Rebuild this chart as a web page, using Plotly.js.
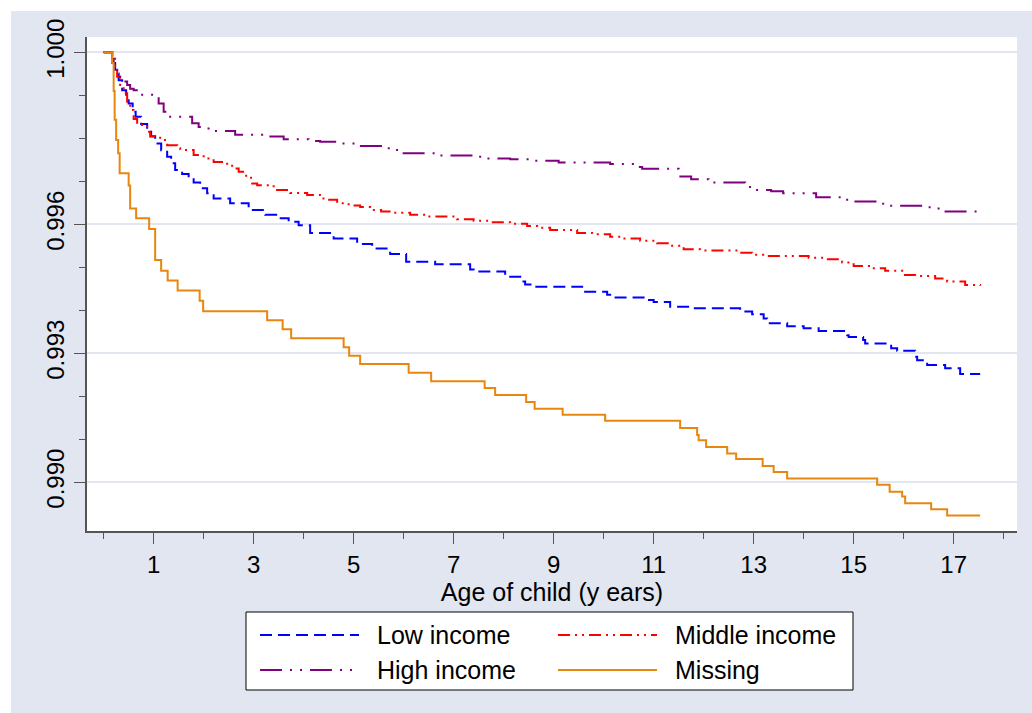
<!DOCTYPE html>
<html>
<head>
<meta charset="utf-8">
<script src="https://cdn.plot.ly/plotly-3.0.1.min.js"></script>
<style>
  html, body { margin: 0; padding: 0; background: #ffffff; }
  #chart { position: absolute; left: 11px; top: 11px; width: 1021px; height: 702px; }
</style>
</head>
<body>
<div id="chart"></div>
<script>
// Kaplan-Meier survival by household income group, age of child in years

const lowTime = [0, 0.17, 0.23, 0.30, 0.37, 0.45, 0.50, 0.58, 0.64, 0.75, 0.87, 0.95, 1.03, 1.15, 1.27, 1.35, 1.43, 1.57, 1.70, 1.80, 1.93, 2.07, 2.20, 2.53, 2.90, 3.23, 3.45, 3.70, 3.90, 4.13, 4.60, 5.07, 5.37, 5.73, 6.05, 6.63, 7.33, 7.40, 8.03, 8.37, 8.43, 8.63, 9.57, 10.07, 10.20, 10.83, 11.00, 11.33, 11.77, 12.73, 12.97, 13.20, 13.27, 13.67, 14.00, 14.30, 14.87, 14.90, 15.19, 15.23, 15.75, 15.87, 16.23, 16.27, 16.47, 16.83, 17.13, 17.53];
const lowSurv = [1.0, 0.99975, 0.99951, 0.99935, 0.99912, 0.99893, 0.99881, 0.99862, 0.99850, 0.99833, 0.99819, 0.99805, 0.99788, 0.99772, 0.99757, 0.99742, 0.99726, 0.99717, 0.99707, 0.99697, 0.99684, 0.99672, 0.99660, 0.99649, 0.99633, 0.99622, 0.99614, 0.99606, 0.99598, 0.99580, 0.99567, 0.99554, 0.99544, 0.99531, 0.99513, 0.99507, 0.99495, 0.99490, 0.99478, 0.99467, 0.99460, 0.99455, 0.99443, 0.99436, 0.99430, 0.99424, 0.99419, 0.99408, 0.99405, 0.99397, 0.99391, 0.99381, 0.99370, 0.99363, 0.99358, 0.99352, 0.99342, 0.99338, 0.99331, 0.99323, 0.99312, 0.99306, 0.99292, 0.99284, 0.99273, 0.99265, 0.99252, 0.99252];

const midTime = [0, 0.17, 0.23, 0.27, 0.33, 0.40, 0.47, 0.53, 0.60, 0.67, 0.87, 0.93, 1.13, 1.27, 1.47, 1.53, 1.80, 2.00, 2.20, 2.47, 2.60, 2.70, 2.85, 2.97, 3.07, 3.40, 3.73, 4.07, 4.37, 4.47, 4.67, 4.90, 5.13, 5.33, 5.55, 5.77, 6.13, 6.43, 7.07, 7.40, 7.73, 8.13, 8.47, 8.67, 8.93, 9.47, 9.77, 10.13, 10.37, 10.73, 11.07, 11.33, 11.60, 11.93, 12.73, 12.97, 13.23, 14.10, 14.37, 14.77, 15.00, 15.37, 15.63, 15.97, 16.23, 16.63, 16.87, 17.23, 17.53];
const midSurv = [1.0, 0.99985, 0.99967, 0.99943, 0.99924, 0.99905, 0.99885, 0.99866, 0.99845, 0.99831, 0.99815, 0.99804, 0.99796, 0.99784, 0.99777, 0.99773, 0.99761, 0.99753, 0.99745, 0.99736, 0.99730, 0.99722, 0.99708, 0.99695, 0.99691, 0.99680, 0.99673, 0.99668, 0.99660, 0.99657, 0.99649, 0.99644, 0.99640, 0.99633, 0.99630, 0.99627, 0.99622, 0.99618, 0.99612, 0.99608, 0.99605, 0.99601, 0.99596, 0.99592, 0.99587, 0.99580, 0.99577, 0.99571, 0.99567, 0.99562, 0.99556, 0.99550, 0.99542, 0.99539, 0.99534, 0.99529, 0.99526, 0.99522, 0.99519, 0.99511, 0.99503, 0.99498, 0.99492, 0.99482, 0.99480, 0.99474, 0.99467, 0.99459, 0.99457];

const highTime = [0, 0.17, 0.20, 0.27, 0.37, 0.47, 0.53, 0.60, 0.77, 1.10, 1.20, 1.33, 1.77, 1.90, 2.00, 2.20, 2.63, 3.17, 3.60, 4.10, 4.33, 4.63, 5.07, 5.57, 5.73, 5.93, 6.63, 7.53, 8.13, 8.60, 9.10, 10.13, 10.67, 10.77, 11.50, 11.75, 12.10, 12.83, 13.03, 13.35, 13.59, 14.25, 14.72, 14.87, 15.59, 16.52, 16.79, 17.53];
const highSurv = [1.0, 0.99985, 0.99967, 0.99943, 0.99932, 0.99924, 0.99915, 0.99912, 0.99901, 0.99881, 0.99862, 0.99850, 0.99835, 0.99826, 0.99823, 0.99817, 0.99808, 0.99804, 0.99798, 0.99794, 0.99792, 0.99788, 0.99782, 0.99777, 0.99773, 0.99765, 0.99760, 0.99753, 0.99751, 0.99748, 0.99744, 0.99740, 0.99733, 0.99729, 0.99711, 0.99705, 0.99697, 0.99687, 0.99680, 0.99677, 0.99672, 0.99663, 0.99657, 0.99653, 0.99643, 0.99637, 0.99630, 0.99630];

const missTime = [0, 0.17, 0.20, 0.22, 0.25, 0.29, 0.32, 0.50, 0.53, 0.65, 0.91, 1.03, 1.15, 1.28, 1.48, 1.92, 1.99, 3.27, 3.58, 3.75, 4.80, 4.91, 5.13, 6.10, 6.55, 7.62, 7.83, 8.45, 8.62, 9.18, 10.03, 11.53, 11.87, 11.90, 12.05, 12.47, 12.65, 13.18, 13.40, 13.67, 15.47, 15.72, 15.97, 16.03, 16.55, 16.87, 17.53];
const missSurv = [1.0, 0.99975, 0.99910, 0.99843, 0.99796, 0.99765, 0.99719, 0.99690, 0.99637, 0.99614, 0.99589, 0.99517, 0.99492, 0.99469, 0.99446, 0.99422, 0.99398, 0.99377, 0.99356, 0.99335, 0.99314, 0.99294, 0.99275, 0.99255, 0.99235, 0.99219, 0.99203, 0.99187, 0.99171, 0.99157, 0.99143, 0.99126, 0.99110, 0.99098, 0.99082, 0.99067, 0.99054, 0.99038, 0.99024, 0.99009, 0.98994, 0.98978, 0.98967, 0.98951, 0.98937, 0.98923, 0.98923];

const groupNames = ["Low income", "Middle income", "High income", "Missing"];
const yTickVals = [0.990, 0.993, 0.996, 1.000];
const yTickText = ["0.990", "0.993", "0.996", "1.000"];
const yMinorVals = [0.991, 0.992, 0.994, 0.995, 0.997, 0.998, 0.999];
const xTickVals = [1, 3, 5, 7, 9, 11, 13, 15, 17];
const xTickText = ["1", "3", "5", "7", "9", "11", "13", "15", "17"];

const styles = [
  { color: "#0000ff", dash: "12px,6px" },
  { color: "#ff0000", dash: "12px,5px,2px,5px,2px,5px" },
  { color: "#800080", dash: "22px,8px,2px,8px,2px,8px" },
  { color: "#e8860f", dash: "solid" }
];

const series = [
  [lowTime, lowSurv],
  [midTime, midSurv],
  [highTime, highSurv],
  [missTime, missSurv]
];

const traces = series.map((s, i) => ({
  type: "scatter",
  mode: "lines",
  name: groupNames[i],
  x: s[0],
  y: s[1],
  line: { shape: "hv", color: styles[i].color, dash: styles[i].dash, width: 2 },
  showlegend: false,
  hoverinfo: "x+y+name"
}));

// plot-area geometry in page pixels, used to place the boxed key below the axes
const PL = 87, PT = 37, PW = 930, PH = 494;
const fx = px => (px - PL) / PW;
const fy = py => 1 - (py - PT) / PH;

const BG = "#e1e6f0";
const AX = "#555555";
const FONT = "Liberation Sans, Arial, Helvetica, sans-serif";

const shapes = [{
  type: "rect", xref: "paper", yref: "paper",
  x0: fx(246), x1: fx(853), y0: fy(612), y1: fy(690),
  line: { color: "#000000", width: 1 }, fillcolor: "#ffffff", layer: "above"
}];
const annotations = [];
const keyCols = [{ x0: 260, x1: 359, tx: 375 }, { x0: 558, x1: 657, tx: 673 }];
const keyRows = [635, 670];
groupNames.forEach((name, i) => {
  const c = keyCols[i % 2], r = keyRows[Math.floor(i / 2)];
  shapes.push({
    type: "line", xref: "paper", yref: "paper",
    x0: fx(c.x0), x1: fx(c.x1), y0: fy(r), y1: fy(r),
    line: { color: styles[i].color, width: 2, dash: styles[i].dash }, layer: "above"
  });
  annotations.push({
    xref: "paper", yref: "paper", x: fx(c.tx), y: fy(r),
    xanchor: "left", yanchor: "middle", showarrow: false,
    text: name, font: { family: FONT, size: 25, color: "#000000" }
  });
});

const layout = {
  width: 1021, height: 702,
  margin: { l: 76, r: 15, t: 26, b: 182 },
  paper_bgcolor: BG,
  plot_bgcolor: "#ffffff",
  font: { family: FONT, color: "#000000" },
  showlegend: false,
  xaxis: {
    range: [-0.333, 18.267],
    tickmode: "array", tickvals: xTickVals, ticktext: xTickText,
    ticks: "outside", ticklen: 11, tickwidth: 1.5, tickcolor: AX,
    minor: { tickmode: "linear", tick0: 0, dtick: 2, ticks: "outside", ticklen: 6, tickwidth: 1.5, tickcolor: AX, showgrid: false },
    showgrid: false, zeroline: false,
    showline: true, linecolor: AX, linewidth: 2,
    tickfont: { family: FONT, size: 24, color: "#000000" },
    title: { text: "Age of child (y ears)", font: { family: FONT, size: 25, color: "#000000" }, standoff: 4 }
  },
  yaxis: {
    range: [0.988867, 1.000356],
    tickmode: "array", tickvals: yTickVals, ticktext: yTickText,
    tickangle: -90,
    ticks: "outside", ticklen: 11, tickwidth: 1.5, tickcolor: AX,
    minor: { tickmode: "array", tickvals: yMinorVals, ticks: "outside", ticklen: 6, tickwidth: 1.5, tickcolor: AX, showgrid: false },
    showgrid: true, gridcolor: BG, gridwidth: 2,
    zeroline: false,
    showline: true, linecolor: AX, linewidth: 2,
    tickfont: { family: FONT, size: 24, color: "#000000" }
  },
  shapes: shapes,
  annotations: annotations
};

Plotly.newPlot("chart", traces, layout, { displayModeBar: false, staticPlot: true });
</script>
</body>
</html>
